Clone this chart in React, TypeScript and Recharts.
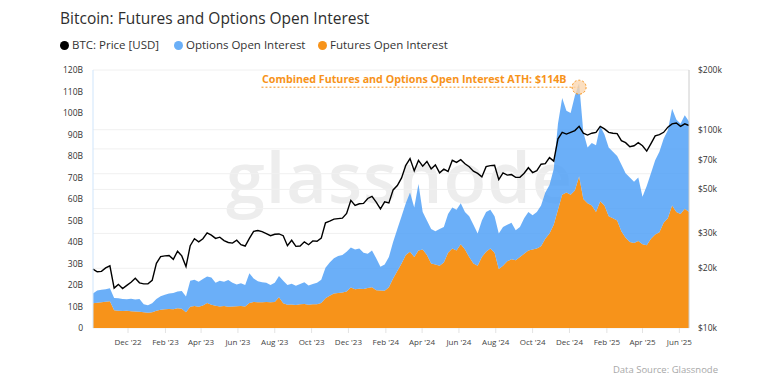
import React from "react";
import {
  ComposedChart,
  Area,
  Line,
  XAxis,
  YAxis,
  CartesianGrid,
  ReferenceLine,
  ReferenceDot,
} from "recharts";

const START = Date.UTC(2022, 9, 4);
const DAY = 86400000;

// weekly samples from 4 Oct 2022, price in $k
const btcPrice = [
  19.8, 19.2, 19.3, 20.1, 20.6, 15.9, 16.6, 15.8, 16.4, 17.0,
  17.8, 16.9, 16.7, 16.7, 17.4, 21.2, 22.9, 23.1, 23.2, 22.2,
  24.4, 23.1, 20.4, 26.0, 28.2, 27.2, 28.2, 30.2, 29.4, 28.3,
  28.7, 27.6, 27.0, 26.8, 27.7, 26.3, 25.9, 28.3, 30.7, 31.0,
  30.6, 29.9, 29.2, 29.7, 29.8, 29.2, 26.0, 27.7, 25.8, 25.9,
  27.2, 26.3, 27.5, 27.4, 28.4, 33.9, 34.6, 35.4, 35.6, 35.8,
  37.8, 44.0, 41.5, 42.3, 42.5, 45.0, 46.1, 43.1, 39.9, 43.3,
  42.7, 49.7, 52.3, 57.1, 66.1, 71.5, 62.0, 70.0, 65.5, 69.1,
  63.4, 66.4, 60.6, 63.2, 61.6, 70.1, 68.4, 70.6, 67.3, 65.0,
  61.8, 60.2, 57.8, 65.1, 65.9, 66.2, 56.0, 60.6, 59.0, 59.4,
  57.5, 57.6, 60.3, 64.3, 60.8, 62.2, 67.0, 67.4, 72.3, 69.4,
  90, 97, 95, 97, 99, 104, 96, 94, 96, 97,
  104, 101, 97, 96, 95.5, 88, 86, 82, 83, 86,
  83, 78, 85, 93, 94.5, 97, 103, 107, 108, 104,
  107, 105,
];

// open interest, $B
const futuresOI = [
  11.5, 11.8, 12.0, 12.2, 12.5, 8.3, 8.0, 7.9, 8.0, 7.8,
  7.7, 7.6, 7.3, 7.1, 7.3, 8.0, 8.5, 8.7, 8.8, 8.7,
  9.2, 8.9, 7.3, 9.9, 10.2, 9.9, 10.5, 11.6, 10.8, 10.3,
  10.0, 10.2, 9.9, 10.0, 10.1, 10.2, 10.0, 11.6, 12.1, 12.0,
  12.0, 12.1, 12.0, 12.1, 14.3, 11.5, 10.8, 10.9, 10.7, 11.0,
  11.2, 10.8, 11.0, 11.1, 11.6, 13.8, 15.0, 16.0, 16.3, 16.5,
  17.0, 18.8, 18.0, 18.3, 18.1, 18.6, 18.9, 17.6, 17.5, 17.3,
  19.0, 23.0, 26.5, 30.0, 34.0, 35.5, 33.0, 36.0, 36.5, 34.0,
  30.0, 29.5, 29.0, 30.5, 35.0, 37.0, 36.0, 39.0, 36.5, 33.0,
  30.0, 29.0, 33.0, 35.5, 37.0, 35.0, 27.5, 29.0, 31.0, 32.0,
  31.5, 33.0, 34.5, 36.0, 36.5, 37.0, 38.0, 41.5, 44.0, 48.0,
  55.0, 62.0, 63.0, 62.0, 64.0, 70.5, 60.0, 58.0, 57.0, 54.0,
  59.0, 57.0, 52.0, 51.0, 50.0, 45.0, 42.0, 40.0, 39.5, 40.5,
  39.0, 38.5, 41.5, 43.5, 44.5, 49.0, 51.0, 57.0, 54.0, 53.0,
  55.5, 54.0,
];

const optionsOI = [
  4.6, 5.7, 5.8, 5.8, 6.0, 5.7, 5.8, 5.6, 5.4, 5.8,
  5.6, 5.9, 3.7, 3.5, 4.2, 5.5, 6.3, 6.8, 7.2, 7.6,
  7.8, 8.3, 7.4, 12.1, 12.3, 11.6, 12.3, 12.4, 12.7, 10.7,
  12.0, 11.3, 12.4, 11.0, 10.1, 10.6, 10.0, 13.9, 10.9, 9.8,
  9.3, 8.9, 8.0, 8.9, 9.9, 10.5, 9.2, 9.7, 8.9, 9.5,
  10.1, 9.0, 9.5, 9.9, 10.9, 14.2, 15.5, 16.5, 17.2, 17.5,
  18.5, 18.7, 18.5, 18.7, 16.9, 15.9, 17.1, 14.9, 11.0, 12.2,
  14.0, 17.0, 19.5, 22.0, 24.0, 27.5, 23.0, 31.0, 17.5, 16.0,
  16.0, 15.5, 17.0, 16.5, 18.0, 19.0, 19.0, 19.0, 17.5, 19.0,
  18.0, 15.0, 17.0, 18.5, 18.0, 17.0, 16.5, 18.0, 17.0, 17.0,
  14.0, 14.0, 16.5, 18.0, 16.0, 17.0, 19.0, 21.5, 22.5, 26.0,
  40.0, 45.0, 38.0, 38.0, 44.0, 43.5, 31.0, 26.0, 29.0, 31.0,
  35.0, 33.0, 32.0, 31.0, 30.0, 31.0, 30.0, 30.0, 28.5, 29.5,
  22.0, 27.5, 30.5, 34.5, 37.5, 39.0, 41.0, 45.0, 43.0, 42.0,
  43.5, 42.0,
];

const tickDates = [
  "2022-12-01", "2023-02-01", "2023-04-01", "2023-06-01",
  "2023-08-01", "2023-10-01", "2023-12-01", "2024-02-01",
  "2024-04-01", "2024-06-01", "2024-08-01", "2024-10-01",
  "2024-12-01", "2025-02-01", "2025-04-01", "2025-06-01",
];
const oiTicks = [0, 10, 20, 30, 40, 50, 60, 70, 80, 90, 100, 110, 120];
const priceTicks = [10000, 20000, 30000, 40000, 50000, 60000, 70000, 80000, 90000, 100000, 200000];
const priceLabels = [10000, 20000, 30000, 50000, 70000, 100000, 200000];

const ATH_DATE = "2024-12-17";
const ATH_LINE_FROM = "2023-07-10";
const ATH_LEVEL = 112;

const MONTHS = ["Jan", "Feb", "Mar", "Apr", "May", "Jun", "Jul", "Aug", "Sep", "Oct", "Nov", "Dec"];

const ORANGE = "#F7931A";
const BLUE = "#4A9EF6";
const FONT = "'Open Sans', sans-serif";

const data = btcPrice.map((p, i) => ({
  t: START + i * 7 * DAY,
  price: p * 1000,
  futures: futuresOI[i],
  options: optionsOI[i],
}));

const END = data[data.length - 1].t;

const fmtDate = (v: number) => {
  const d = new Date(v);
  return `${MONTHS[d.getUTCMonth()]} '${String(d.getUTCFullYear()).slice(2)}`;
};
const fmtOI = (v: number) => (v === 0 ? "0" : `${v}B`);
const fmtPrice = (v: number) => (priceLabels.includes(v) ? `$${v / 1000}k` : "");

const legend = [
  { label: "BTC: Price [USD]", color: "#000", left: 59.5 },
  { label: "Options Open Interest", color: "#6AAFF7", left: 173.5 },
  { label: "Futures Open Interest", color: ORANGE, left: 317.5 },
];

export default function App() {
  return (
    <div
      style={{
        position: "absolute",
        left: 0,
        top: 0,
        width: 784,
        height: 384,
        background: "#fff",
        fontFamily: FONT,
        overflow: "hidden",
      }}
    >
      <div style={{ position: "absolute", left: 60, top: 8, fontSize: 15.5, color: "#2e2e2e", lineHeight: "20px" }}>
        Bitcoin: Futures and Options Open Interest
      </div>

      {legend.map((l) => (
        <div
          key={l.label}
          style={{
            position: "absolute",
            left: l.left,
            top: 37,
            display: "flex",
            alignItems: "center",
            fontSize: 11.5,
            color: "#333",
            lineHeight: "16px",
          }}
        >
          <span style={{ width: 9, height: 9, borderRadius: 5, background: l.color, marginRight: 3.5 }} />
          {l.label}
        </div>
      ))}

      <div
        style={{
          position: "absolute",
          left: 226,
          top: 136,
          fontSize: 70,
          fontWeight: 600,
          color: "#ededed",
          letterSpacing: 1,
          lineHeight: "80px",
        }}
      >
        glassnode
      </div>

      <div style={{ position: "absolute", left: 0, top: 0 }}>
        <ComposedChart
          width={784}
          height={384}
          data={data}
          margin={{ top: 70, right: 45, bottom: 26, left: 33 }}
        >
          <CartesianGrid yAxisId="price" vertical={false} stroke="#f0f0f0" />
          <XAxis
            dataKey="t"
            type="number"
            domain={[START, END]}
            ticks={tickDates.map((d) => Date.parse(d))}
            tickFormatter={fmtDate}
            tick={{ fontSize: 8, fill: "#444", fontFamily: FONT }}
            axisLine={false}
            tickLine={{ stroke: "#e3e3e3" }}
            tickSize={5}
            tickMargin={6}
            height={30}
          />
          <YAxis
            yAxisId="oi"
            domain={[0, 120]}
            ticks={oiTicks}
            tickFormatter={fmtOI}
            tick={{ fontSize: 8.5, fill: "#333", fontFamily: FONT }}
            axisLine={{ stroke: "#cfe5fb" }}
            tickLine={false}
            tickSize={0}
            tickMargin={10}
            width={60}
          />
          <YAxis
            yAxisId="price"
            orientation="right"
            scale="log"
            domain={[10000, 200000]}
            ticks={priceTicks}
            tickFormatter={fmtPrice}
            tick={{ fontSize: 8.5, fill: "#333", fontFamily: FONT }}
            axisLine={{ stroke: "#cccccc" }}
            tickLine={false}
            tickSize={0}
            tickMargin={9}
            width={50}
            allowDataOverflow
          />
          <Line
            yAxisId="price"
            dataKey="price"
            type="linear"
            stroke="#000"
            strokeWidth={1.4}
            dot={false}
            isAnimationActive={false}
          />
          <Area
            yAxisId="oi"
            dataKey="futures"
            stackId="oi"
            type="linear"
            fill={ORANGE}
            fillOpacity={1}
            stroke="none"
            isAnimationActive={false}
          />
          <Area
            yAxisId="oi"
            dataKey="options"
            stackId="oi"
            type="linear"
            fill={BLUE}
            fillOpacity={0.82}
            stroke="none"
            isAnimationActive={false}
          />
          <ReferenceLine
            yAxisId="oi"
            segment={[
              { x: Date.parse(ATH_LINE_FROM), y: ATH_LEVEL },
              { x: Date.parse(ATH_DATE), y: ATH_LEVEL },
            ]}
            stroke={ORANGE}
            strokeDasharray="2 2"
            strokeWidth={1}
          />
          <ReferenceDot
            yAxisId="oi"
            x={Date.parse(ATH_DATE)}
            y={ATH_LEVEL}
            r={7}
            fill="#FBD7B0"
            fillOpacity={0.8}
            stroke={ORANGE}
            strokeDasharray="2 2"
          />
        </ComposedChart>
      </div>

      <div
        style={{
          position: "absolute",
          left: 262,
          top: 72,
          fontSize: 10.7,
          fontWeight: 700,
          color: ORANGE,
          lineHeight: "14px",
          whiteSpace: "nowrap",
        }}
      >
        Combined Futures and Options Open Interest ATH: $114B
      </div>

      <div style={{ position: "absolute", right: 66, top: 363, fontSize: 9.5, color: "#a8a8a8" }}>
        Data Source: Glassnode
      </div>
    </div>
  );
}
